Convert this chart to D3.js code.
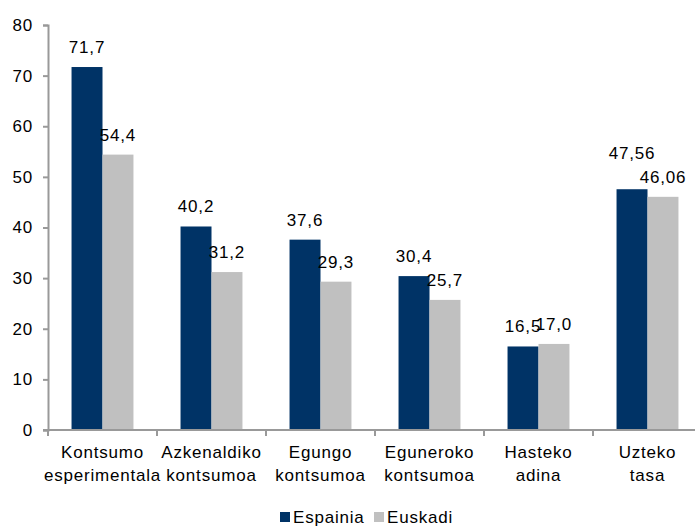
<!DOCTYPE html>
<html>
<head>
<meta charset="UTF-8">
<title>Kontsumoa</title>
<style>
    body { margin: 0; background: #fff; }
    svg { display: block; overflow: hidden; }
    text { font-family: "Liberation Sans", Arial, sans-serif; fill: #000; letter-spacing: 0.8px; }
</style>
<script src="https://d3js.org/d3.v7.min.js"></script>
</head>
<body>
<div id="chart"></div>
<script>
    // data
    var categories = [
        ["Kontsumo", "esperimentala"],
        ["Azkenaldiko", "kontsumoa"],
        ["Egungo", "kontsumoa"],
        ["Eguneroko", "kontsumoa"],
        ["Hasteko", "adina"],
        ["Uzteko", "tasa"]
    ];
    var espainia = [71.7, 40.2, 37.6, 30.4, 16.5, 47.56];
    var euskadi = [54.4, 31.2, 29.3, 25.7, 17.0, 46.06];
    var espainiaLabels = ["71,7", "40,2", "37,6", "30,4", "16,5", "47,56"];
    var euskadiLabels = ["54,4", "31,2", "29,3", "25,7", "17,0", "46,06"];
    var seriesNames = ["Espainia", "Euskadi"];
    var colors = ["#003366", "#c0c0c0"];
    var yTicks = [0, 10, 20, 30, 40, 50, 60, 70, 80];

    var width = 695, height = 529;
    var plotLeft = 48, plotRight = 702, plotTop = 25, plotBottom = 430;

    var svg = d3.select("#chart").append("svg")
        .attr("width", width)
        .attr("height", height);

    var x = d3.scaleBand()
        .domain(d3.range(categories.length))
        .range([plotLeft, plotRight])
        .paddingInner(0)
        .paddingOuter(0);

    var xInner = d3.scaleBand()
        .domain([0, 1])
        .range([0, x.bandwidth()])
        .paddingInner(0)
        .paddingOuter(0.76);

    var y = d3.scaleLinear()
        .domain([0, 80])
        .range([plotBottom, plotTop]);

    // bars
    var series = [espainia, euskadi];
    var labels = [espainiaLabels, euskadiLabels];

    series.forEach(function(values, s) {
        svg.append("g")
            .selectAll("rect")
            .data(values)
            .enter().append("rect")
            .attr("x", function(d, i) { return x(i) + xInner(s); })
            .attr("y", function(d) { return y(d); })
            .attr("width", xInner.bandwidth())
            .attr("height", function(d) { return plotBottom - y(d); })
            .attr("fill", colors[s]);
    });

    // value labels, dark label pushed up when it runs into the grey one
    var fontSize = 17;
    var labelG = svg.append("g").style("font-size", fontSize + "px");
    categories.forEach(function(c, i) {
        var pos = [0, 1].map(function(s) {
            return {
                cx: x(i) + xInner(s) + xInner.bandwidth() / 2,
                y: y(series[s][i]) - 14,
                text: labels[s][i]
            };
        });
        var w0 = labels[0][i].length * 9.4, w1 = labels[1][i].length * 9.4;
        var overlap = (pos[0].cx + w0 / 2) - (pos[1].cx - w1 / 2);
        if (overlap > 10 && Math.abs(pos[0].y - pos[1].y) < 20) {
            pos[0].y = Math.min(pos[0].y, pos[1].y - 24);
        }
        pos.forEach(function(p) {
            labelG.append("text")
                .attr("x", p.cx)
                .attr("y", p.y)
                .attr("text-anchor", "middle")
                .text(p.text);
        });
    });

    // y axis
    var yAxis = d3.axisLeft(y)
        .tickValues(yTicks)
        .tickSize(5)
        .tickPadding(10);

    var yg = svg.append("g")
        .attr("transform", "translate(" + plotLeft + ",0)")
        .call(yAxis);
    yg.select(".domain").attr("stroke", "#999").attr("stroke-width", 2);
    yg.selectAll(".tick line").attr("stroke", "#999").attr("stroke-width", 2);
    yg.selectAll(".tick text")
        .style("font-family", "'Liberation Sans', Arial, sans-serif")
        .style("font-size", fontSize + "px")
        .attr("fill", "#000");

    // x axis: ticks on category boundaries
    var bounds = d3.range(categories.length + 1).map(function(i) {
        return i < categories.length ? x(i) : plotRight;
    });
    var xg = svg.append("g");
    xg.append("line")
        .attr("x1", plotLeft - 5).attr("x2", plotRight)
        .attr("y1", plotBottom).attr("y2", plotBottom)
        .attr("stroke", "#999").attr("stroke-width", 2);
    xg.selectAll("line.tk")
        .data(bounds)
        .enter().append("line")
        .attr("class", "tk")
        .attr("x1", function(d) { return d; })
        .attr("x2", function(d) { return d; })
        .attr("y1", plotBottom)
        .attr("y2", plotBottom + 6)
        .attr("stroke", "#999").attr("stroke-width", 2);

    var catG = svg.append("g").style("font-size", fontSize + "px");
    categories.forEach(function(lines, i) {
        var t = catG.append("text")
            .attr("text-anchor", "middle")
            .attr("x", x(i) + x.bandwidth() / 2)
            .attr("y", plotBottom + 28);
        lines.forEach(function(line, j) {
            t.append("tspan")
                .attr("x", x(i) + x.bandwidth() / 2)
                .attr("dy", j === 0 ? 0 : 23)
                .text(line);
        });
    });

    // legend
    var legend = svg.append("g").style("font-size", fontSize + "px");
    var legendX = [280, 374];
    seriesNames.forEach(function(name, s) {
        legend.append("rect")
            .attr("x", legendX[s])
            .attr("y", 512)
            .attr("width", 10)
            .attr("height", 10)
            .attr("fill", colors[s]);
        legend.append("text")
            .attr("x", legendX[s] + 13)
            .attr("y", 523)
            .text(name);
    });
</script>
</body>
</html>
